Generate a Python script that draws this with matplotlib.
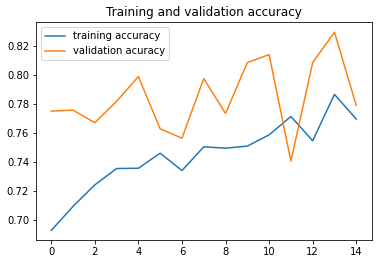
import matplotlib
matplotlib.use("Agg")
import matplotlib.pyplot as plt

epochs = list(range(15))
train_acc = [0.6926, 0.7092, 0.7241, 0.7354, 0.7356, 0.7460, 0.7340, 0.7504,
             0.7495, 0.7509, 0.7587, 0.7714, 0.7546, 0.7867, 0.7696]
val_acc = [0.7751, 0.7758, 0.7671, 0.7819, 0.7990, 0.7629, 0.7564, 0.7976,
           0.7735, 0.8087, 0.8142, 0.7405, 0.8087, 0.8297, 0.7791]

fig = plt.figure(figsize=(378 / 72, 264 / 72), dpi=72)
ax = fig.add_axes([36 / 378, 1 - 240.3 / 264, (371.5 - 36) / 378, (240.3 - 22.3) / 264])

ax.plot(epochs, train_acc, label="training accuracy")
ax.plot(epochs, val_acc, label="validation acuracy")
ax.set_title("Training and validation accuracy")
ax.legend(loc="upper left")

fig.savefig("out.png", dpi=72)
